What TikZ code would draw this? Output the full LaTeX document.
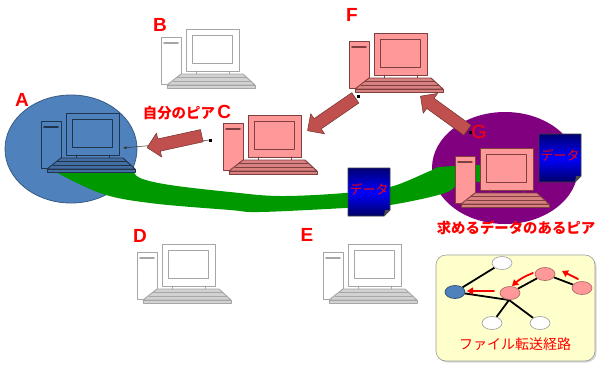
\documentclass[tikz,border=0pt]{standalone}
\usepackage{fontspec}
\setmainfont{Liberation Sans}
\newfontfamily\jp{Noto Sans CJK JP}
\usetikzlibrary{shapes.arrows,shapes.geometric,arrows.meta,shadows,calc}

\definecolor{peerblue}{HTML}{4F81BD}
\definecolor{peerpink}{HTML}{FF9999}
\definecolor{pinkline}{HTML}{7F3F3F}
\definecolor{pinkkey}{HTML}{D98080}
\definecolor{arrowred}{HTML}{C0504D}
\definecolor{routegreen}{HTML}{009900}
\definecolor{peerpurple}{HTML}{800080}
\definecolor{notebg}{HTML}{FFFFCC}

\pgfdeclarelayer{bg}
\pgfsetlayers{bg,main}

% one desktop PC, origin at the top left corner of the tower
\tikzset{
  pics/computer/.style n args={3}{code={
    \filldraw[fill=#1, draw=#2, line width=0.9pt] (0,0) rectangle (20,47);
    \draw[#2, line width=1.6pt] (3,6) -- (17,6);
    \filldraw[fill=#1, draw=#2, line width=0.9pt] (25,-8) rectangle (78,34);
    \draw[#2, line width=0.9pt] (31,-2) rectangle (71,26);
    \draw[#2, line width=0.9pt] (35,34) -- (35,37) (68,34) -- (68,37);
    \filldraw[fill=#3, draw=#2, line width=0.9pt] (20,37) -- (82,37) -- (94,48) -- (6,48) -- cycle;
    \draw[#2, line width=0.5pt] (16,40.5) -- (86,40.5) (12,44) -- (90,44);
    \filldraw[fill=#3, draw=#2, line width=0.7pt] (6,48) rectangle (94,51);
  }},
  pics/datadoc/.style={code={
    \shade[top color=blue!45!black, bottom color=blue!40!black, middle color=blue, draw=black!75, line width=0.8pt]
      (0,0) -- (42,0) -- (42,42) -- (36,48) -- (0,48) -- cycle;
    \fill[black!70] (42,42) -- (36,48) -- (37,42) -- cycle;
    \node[text=red, font=\fontsize{13}{13}\selectfont\jp\itshape] at (21,21) {データ};
  }}
}

\begin{document}
\begin{tikzpicture}[x=1pt, y=-1pt, line join=round, line cap=round,
  lbl/.style={text=red, font=\fontsize{19}{19}\selectfont\bfseries},
  jplbl/.style={text=red, font=\fontsize{14.4}{14.4}\selectfont\jp\bfseries},
  fatarrow/.style={single arrow, fill=arrowred, draw=arrowred!60!black, line width=0.5pt,
    inner xsep=0pt, inner ysep=6pt, single arrow head extend=6pt,
    minimum height=#1, sloped, allow upside down},
  gnode/.style={ellipse, minimum width=20pt, minimum height=13pt, inner sep=0pt, line width=0.7pt},
  redarrow/.style={red, line width=1.8pt, -{Triangle[length=6pt,width=7pt]}}]

\begin{pgfonlayer}{bg}
\fill[white] (0,0) rectangle (597,365);
\end{pgfonlayer}
\useasboundingbox (0,0) rectangle (597,365);

% the peers
\coordinate (A) at (41,121);
\coordinate (B) at (161,37);
\coordinate (C) at (223,123);
\coordinate (D) at (137,252);
\coordinate (E) at (323,252);
\coordinate (F) at (349,41);
\coordinate (G) at (455,156);

\filldraw[fill=peerblue, draw=peerblue!70!black, line width=0.8pt] (71,149) ellipse [x radius=66, y radius=54];
\fill[peerpurple] (505,168) ellipse [x radius=73, y radius=56];

% download route from G to A
\fill[routegreen] plot[smooth, tension=0.6] coordinates {(50,169) (100,193) (150,203) (230,210) (260,212) (345,208) (390,205) (445,193) (460,182) (480,182)}
  -- plot[smooth, tension=0.6] coordinates {(480,165) (440,167) (430,171) (390,187) (345,193) (280,196) (230,192) (170,185) (140,178) (133,170)} -- cycle;

\pic at (A) {computer={peerblue}{peerblue!40!black}{peerblue!85!black}};
\pic at (B) {computer={white}{gray!70}{gray!35}};
\pic at (C) {computer={peerpink}{pinkline}{pinkkey}};
\pic at (D) {computer={white}{gray!70}{gray!35}};
\pic at (E) {computer={white}{gray!70}{gray!35}};
\pic at (F) {computer={peerpink}{pinkline}{pinkkey}};
\pic at (G) {computer={peerpink}{pinkline}{pinkkey}};

\pic at (348,168) {datadoc};
\pic at (539,134) {datadoc};

% request path between the peers
\coordinate (ca-t) at (205,135);
\coordinate (ca-h) at (150,147);
\coordinate (fc-t) at (358,96);
\coordinate (fc-h) at (310,129);
\coordinate (gf-t) at (470,132);
\coordinate (gf-h) at (423,98);
\coordinate (ca-d) at (210,140);
\coordinate (a-in) at (123,148);

\draw[black!80, line width=0.5pt, -{Stealth[length=4pt]}] (ca-d) -- (a-in);
\foreach \p in {ca-d,fc-t,gf-t} { \fill (\p) ++(-1.5,-1.5) rectangle ++(3,3); }

\path (ca-t) -- (ca-h) node[fatarrow=56pt, midway] {};
\path (fc-t) -- (fc-h) node[fatarrow=58pt, midway] {};
\path (gf-t) -- (gf-h) node[fatarrow=58pt, midway] {};

\node[lbl] (labA) at (22,100) {A};
\node[lbl] (labB) at (160,25) {B};
\node[lbl] (labD) at (140,236) {D};
\node[lbl] (labE) at (307,235) {E};
\node[lbl] (labF) at (352,15) {F};
\node[text=red, font=\fontsize{19}{19}\selectfont] (labG) at (479,132) {G};
\node[jplbl] (labC) at (187,113) {自分のピア\,{\fontsize{19}{19}\selectfont\rmfamily\bfseries C}};
\node[jplbl] (labH) at (516,228) {求めるデータのあるピア};

% transfer route inset
\node[gnode, fill=peerblue, draw=peerblue!60!black] (n1) at (455,292) {};
\node[gnode, fill=white, draw=gray!70] (n2) at (502,263) {};
\node[gnode, fill=peerpink, draw=peerpink!70!black] (n3) at (510,293) {};
\node[gnode, fill=peerpink, draw=peerpink!70!black] (n4) at (545,274) {};
\node[gnode, fill=peerpink, draw=peerpink!70!black] (n5) at (582,288) {};
\node[gnode, fill=white, draw=gray!70] (n6) at (492,323) {};
\node[gnode, fill=white, draw=gray!70] (n7) at (540,323) {};
\coordinate (j) at (509,300);

\begin{pgfonlayer}{bg}
\filldraw[fill=notebg, draw=gray!80, line width=0.6pt, rounded corners=10pt,
  drop shadow={shadow xshift=1.5pt, shadow yshift=-1.5pt, fill=gray!60}] (436,255) rectangle (595,361);
\draw[line width=1.8pt] (n1) -- (n2) (n1) -- (j) (j) -- (n6) (j) -- (n7) (n3) -- (n4) (n4) -- (n5);
\end{pgfonlayer}

\draw[redarrow] ($(n5)+(-4,-9)$) -- ($(n4)+(17,-3)$);
\draw[redarrow] ($(n4)+(-12,-1)$) to[bend right=10] ($(n3)+(2,-7)$);
\draw[redarrow] ($(n3)+(-16,-2)$) -- ($(n1)+(12,-1)$);

\node[text=red, font=\fontsize{14}{14}\selectfont\jp] (route) at (515,344) {ファイル転送経路};
\end{tikzpicture}
\end{document}
